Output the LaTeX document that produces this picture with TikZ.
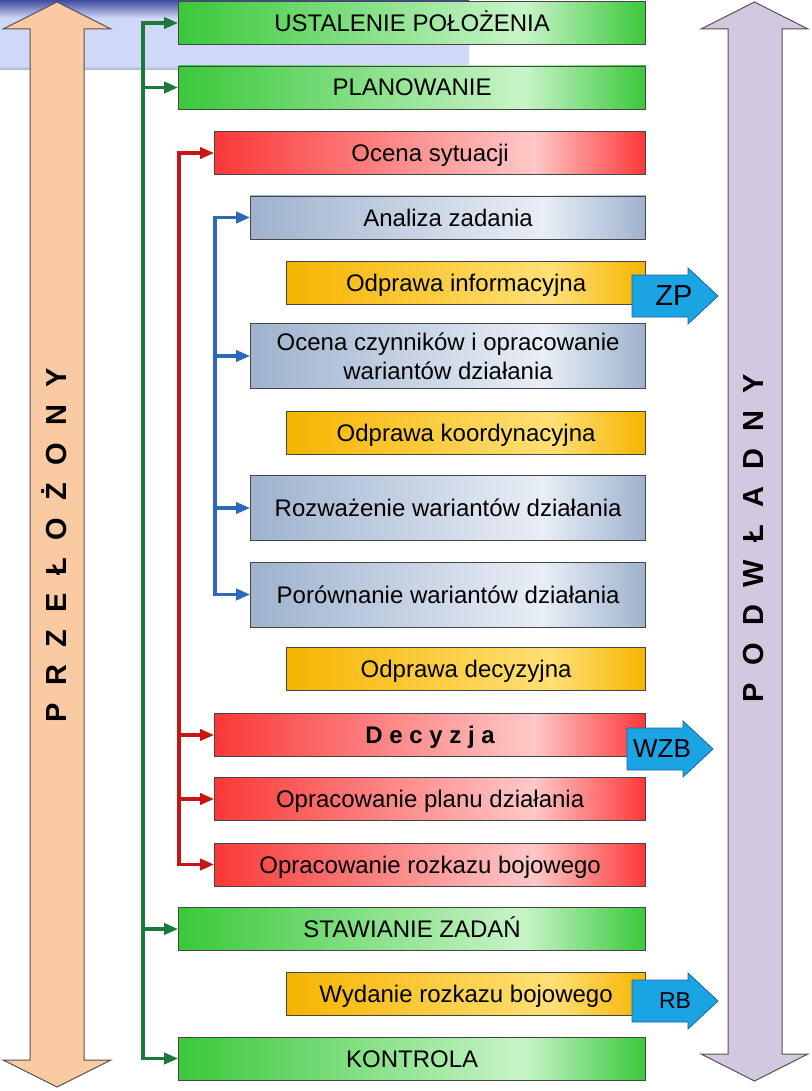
\documentclass[tikz,border=0pt]{standalone}
\usepackage{fontspec}
\setmainfont{Liberation Sans}
\newfontfamily\sidefont[WordSpace=2.15]{Liberation Sans}
\usetikzlibrary{arrows.meta,positioning}

\definecolor{greenL}{RGB}{58,200,58}
\definecolor{greenH}{RGB}{200,244,200}
\definecolor{redL}{RGB}{250,56,56}
\definecolor{redH}{RGB}{255,200,200}
\definecolor{blueL}{RGB}{158,178,206}
\definecolor{blueH}{RGB}{232,238,246}
\definecolor{orangeL}{RGB}{246,180,0}
\definecolor{orangeH}{RGB}{255,224,118}
\definecolor{bandD}{RGB}{62,76,160}
\definecolor{bandL}{RGB}{208,216,248}
\definecolor{bandE}{RGB}{170,176,200}
\definecolor{peach}{RGB}{250,202,162}
\definecolor{lilac}{RGB}{210,200,224}
\definecolor{arrowline}{RGB}{90,80,80}
\definecolor{callblue}{RGB}{26,164,228}
\definecolor{callline}{RGB}{30,100,160}
\definecolor{lineG}{RGB}{30,120,60}
\definecolor{lineR}{RGB}{200,20,20}
\definecolor{lineB}{RGB}{46,104,184}
\definecolor{boxline}{RGB}{70,70,70}

\pgfdeclarehorizontalshading{greenshade}{100bp}{color(0bp)=(greenL); color(25bp)=(greenL); color(62bp)=(greenH); color(75bp)=(greenL); color(100bp)=(greenL)}
\pgfdeclarehorizontalshading{redshade}{100bp}{color(0bp)=(redL); color(25bp)=(redL); color(62bp)=(redH); color(75bp)=(redL); color(100bp)=(redL)}
\pgfdeclarehorizontalshading{blueshade}{100bp}{color(0bp)=(blueL); color(25bp)=(blueL); color(62bp)=(blueH); color(75bp)=(blueL); color(100bp)=(blueL)}
\pgfdeclarehorizontalshading{orangeshade}{100bp}{color(0bp)=(orangeL); color(25bp)=(orangeL); color(62bp)=(orangeH); color(75bp)=(orangeL); color(100bp)=(orangeL)}
\pgfdeclareverticalshading{bandshade}{100bp}{color(0bp)=(bandE); color(25bp)=(bandE); color(28bp)=(bandL); color(62bp)=(bandL); color(75bp)=(bandD); color(100bp)=(bandD)}

\begin{document}
\begin{tikzpicture}[x=1pt,y=-1pt,
    box/.style={draw=boxline,line width=0.8pt,anchor=east,inner sep=0pt,
      minimum height=43pt,text height=17pt,text depth=0pt,align=center,
      font=\fontsize{24}{29}\selectfont,shade},
    greenbox/.style={box,shading=greenshade,minimum width=467pt},
    redbox/.style={box,shading=redshade,minimum width=431pt},
    bluebox/.style={box,shading=blueshade,minimum width=395pt},
    orangebox/.style={box,shading=orangeshade,minimum width=359pt},
    tall/.style={minimum height=65pt},
    headto/.style={-{Triangle[length=14pt,width=11pt]}},
    headboth/.style={{Triangle[length=14pt,width=11pt]}-{Triangle[length=14pt,width=11pt]}},
    gline/.style={draw=lineG,line width=3.5pt},
    rline/.style={draw=lineR,line width=3.5pt},
    bline/.style={draw=lineB,line width=3.5pt},
    bigarrow/.style={draw=arrowline,line width=1pt},
    sidelabel/.style={rotate=90,inner sep=0pt,text height=21pt,text depth=0pt,
      font=\fontsize{29}{34}\sidefont\bfseries},
    callout/.style={fill=callblue,draw=callline,line width=0.8pt},
    calltext/.style={inner sep=0pt}]
  \useasboundingbox (0,0) rectangle (811,1091);

  \shade[shading=bandshade] (0,0) rectangle (469,70);

  \draw[bigarrow,fill=peach] (57,2) -- (111,29) -- (84,29) -- (84,1060) -- (111,1060)
    -- (57,1087) -- (3,1060) -- (30,1060) -- (30,29) -- (3,29) -- cycle;
  \draw[bigarrow,fill=lilac] (754.5,2) -- (808,29) -- (782,29) -- (782,1054) -- (808,1054)
    -- (754.5,1081) -- (701,1054) -- (728,1054) -- (728,29) -- (701,29) -- cycle;
  \node[sidelabel] (przel) at (56,545) {P R Z E Ł O Ż O N Y};
  \node[sidelabel] (podwl) at (753,538) {P O D W Ł A D N Y};

  \node[greenbox] (ust) at (646,23) {USTALENIE POŁOŻENIA};
  \node[greenbox] (plan) at (646,87.5) {PLANOWANIE};
  \node[redbox] (ocena) at (646,153) {Ocena sytuacji};
  \node[bluebox] (anal) at (646,217.5) {Analiza zadania};
  \node[orangebox] (odpinf) at (646,282.5) {Odprawa informacyjna};
  \node[bluebox,tall,text height={},text depth={}] (czyn) at (646,356)
    {Ocena czynników i opracowanie\\wariantów działania};
  \node[orangebox] (odpkoord) at (646,432.5) {Odprawa koordynacyjna};
  \node[bluebox,tall] (rozw) at (646,508) {Rozważenie wariantów działania};
  \node[bluebox,tall] (por) at (646,594.5) {Porównanie wariantów działania};
  \node[orangebox] (odpdec) at (646,669) {Odprawa decyzyjna};
  \node[redbox] (dec) at (646,735) {\bfseries D e c y z j a};
  \node[redbox] (opplan) at (646,799) {Opracowanie planu działania};
  \node[redbox] (oproz) at (646,864.5) {Opracowanie rozkazu bojowego};
  \node[greenbox] (staw) at (646,929) {STAWIANIE ZADAŃ};
  \node[orangebox] (wyd) at (646,994) {Wydanie rozkazu bojowego};
  \node[greenbox] (kontr) at (646,1058.5) {KONTROLA};

  \coordinate (gx) at (143,0);
  \coordinate (rx) at (179,0);
  \coordinate (bx) at (215,0);

  \draw[gline,headboth] (ust.west) -| (gx |- kontr.west) -- (kontr.west);
  \foreach \b in {plan,staw}
    \draw[gline,headto] (gx |- \b.west) -- (\b.west);
  \draw[rline,headboth] (ocena.west) -| (rx |- oproz.west) -- (oproz.west);
  \foreach \b in {dec,opplan}
    \draw[rline,headto] (rx |- \b.west) -- (\b.west);
  \draw[bline,headboth] (anal.west) -| (bx |- por.west) -- (por.west);
  \foreach \b in {czyn,rozw}
    \draw[bline,headto] (bx |- \b.west) -- (\b.west);

  \foreach \nm/\lab/\xl/\yc/\tx/\fs in {zp/ZP/632/296/674/29,wzb/WZB/627/749/662/26,rb/RB/632/1001/675/23}{
    \draw[callout] (\xl,\yc-21) -- (\xl+56,\yc-21) -- (\xl+56,\yc-28) -- (\xl+86,\yc)
      -- (\xl+56,\yc+28) -- (\xl+56,\yc+21) -- (\xl,\yc+21) -- cycle;
    \node[calltext,font=\fontsize{\fs}{\fs}\selectfont] (\nm) at (\tx,\yc) {\lab};
  }
\end{tikzpicture}
\end{document}
